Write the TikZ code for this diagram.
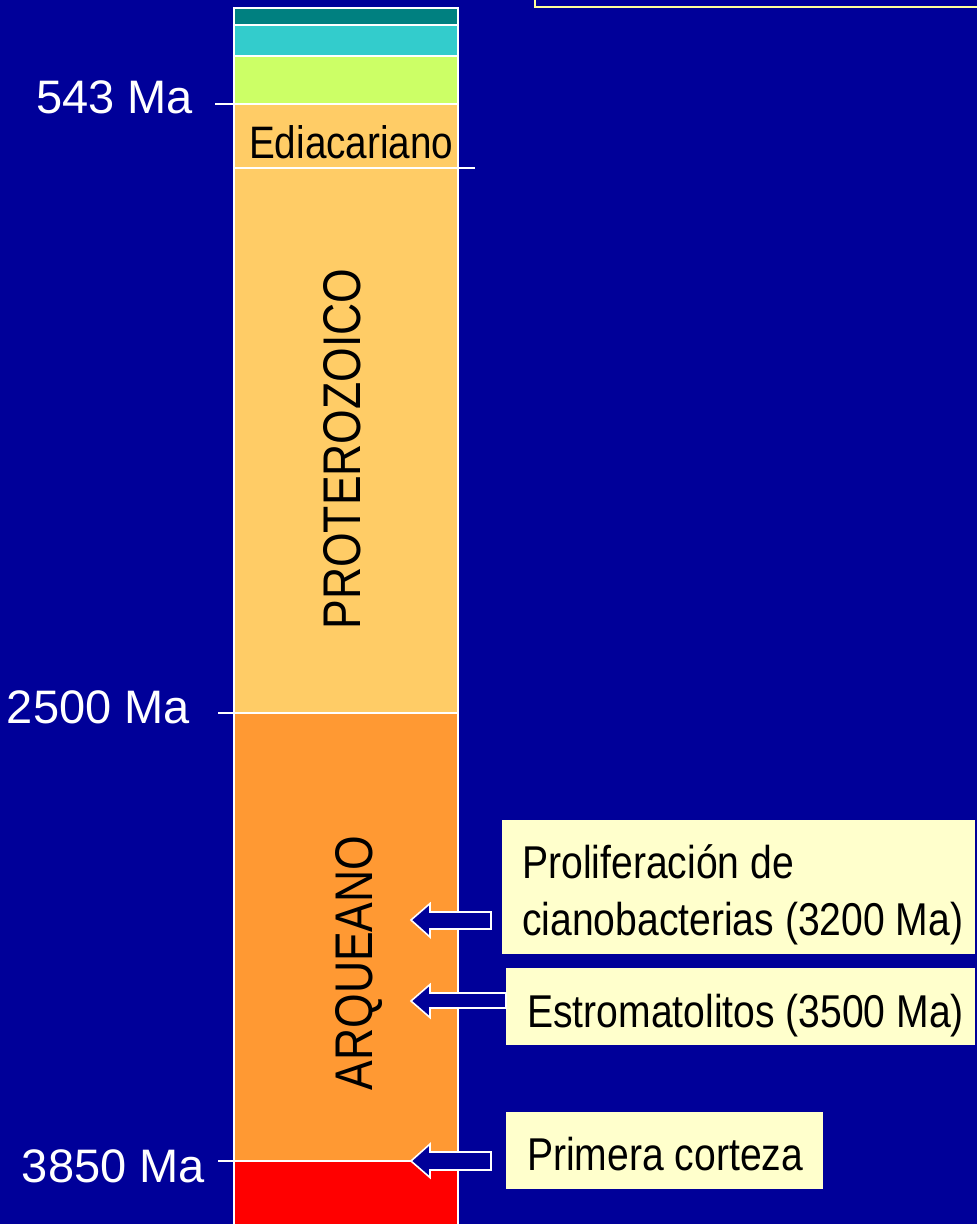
\documentclass[tikz,border=0pt]{standalone}
\usepackage{fontspec}
\setmainfont{Liberation Sans}
\newfontfamily\narrowfont[FakeStretch=0.85]{Liberation Sans}
\newfontfamily\eranarrow[FakeStretch=0.84]{Liberation Sans}
\definecolor{bgnavy}{HTML}{000099}
\definecolor{tealband}{HTML}{008080}
\definecolor{cyanband}{HTML}{33CCCC}
\definecolor{greenband}{HTML}{CCFF66}
\definecolor{lightorange}{HTML}{FFCC66}
\definecolor{orangeband}{HTML}{FF9933}
\definecolor{redband}{HTML}{FF0000}
\definecolor{noteyellow}{HTML}{FFFFCC}
\definecolor{frameyellow}{HTML}{FFFF99}
\tikzset{
  band/.style={draw=white, line width=1.6pt},
  agelabel/.style={text=white, font=\fontsize{47}{50}\selectfont, inner sep=0pt, anchor=base east},
  erafont/.style={text=black, font=\eranarrow\fontsize{53}{58}\selectfont, inner sep=0pt, rotate=90, anchor=base},
  notebox/.style={fill=noteyellow, draw=none},
  notetext/.style={text=black, font=\narrowfont\fontsize{46}{57}\selectfont, inner sep=0pt, anchor=base west},
  blockarrow/.style={fill=bgnavy, draw=white, line width=1.6pt, line join=miter}
}
\begin{document}
\begin{tikzpicture}[x=1pt, y=-1pt]
\useasboundingbox (0,0) rectangle (977,1224);
\fill[bgnavy] (0,0) rectangle (977,1224);
% partial frame at top right
\begin{scope}
\clip (0,0) rectangle (977,1224);
\draw[frameyellow, line width=2pt] (535,-40) -- (535,7) -- (1000,7);
\end{scope}
% column bands
\fill[tealband] (234,8) rectangle (458,25);
\fill[cyanband] (234,25) rectangle (458,56);
\fill[greenband] (234,56) rectangle (458,104);
\fill[lightorange] (234,104) rectangle (458,713);
\fill[orangeband] (234,713) rectangle (458,1161);
\fill[redband] (234,1161) rectangle (458,1230);
\draw[band] (234,1230) -- (234,8) -- (458,8) -- (458,1230);
\draw[band] (234,25) -- (458,25);
\draw[band] (234,56) -- (458,56);
\draw[band] (215,104) -- (458,104);
\draw[band] (234,168) -- (475,168);
\draw[band] (218,713) -- (458,713);
\draw[band] (218,1161) -- (458,1161);
% age labels
\node[agelabel] (a543) at (193,113) {543 Ma};
\node[agelabel] (a2500) at (190,723) {2500 Ma};
\node[agelabel] (a3850) at (205,1182) {3850 Ma};
% era labels
\node[text=black, font=\narrowfont\fontsize{45.5}{50}\selectfont, inner sep=0pt, anchor=base west] (edi) at (249,158) {Ediacariano};
\node[erafont] (prot) at (360,449) {PROTEROZOICO};
\node[erafont] (arq) at (372,963) {ARQUEANO};
% note boxes
\fill[notebox] (502,820) rectangle (975,954);
\fill[notebox] (506,968) rectangle (975,1045);
\fill[notebox] (506,1112) rectangle (823,1189);
\node[notetext] (prolif1) at (522,878) {Proliferación de};
\node[notetext] (prolif2) at (522,935) {cianobacterias (3200 Ma)};
\node[notetext] (estro) at (527,1027) {Estromatolitos (3500 Ma)};
\node[notetext] (corteza) at (527,1170) {Primera corteza};
% block arrows
\draw[blockarrow] (411,920) -- (430,903.5) -- (430,912) -- (491,912) -- (491,929) -- (430,929) -- (430,937) -- cycle;
\draw[blockarrow] (411,1001) -- (430,984.5) -- (430,993) -- (506,993) -- (506,1008) -- (430,1008) -- (430,1017.5) -- cycle;
\draw[blockarrow] (411,1161) -- (430,1144) -- (430,1152) -- (491,1152) -- (491,1170) -- (430,1170) -- (430,1177.5) -- cycle;
\end{tikzpicture}
\end{document}
